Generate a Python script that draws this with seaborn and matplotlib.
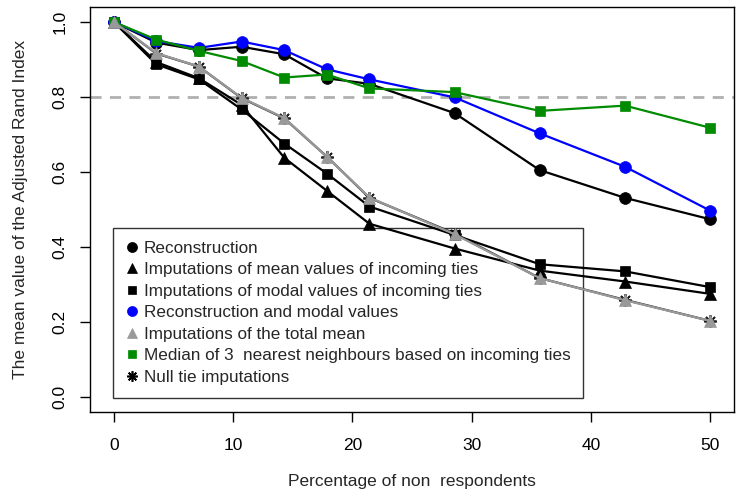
import matplotlib
matplotlib.use("Agg")
import matplotlib.pyplot as plt
import seaborn as sns
import pandas as pd
from matplotlib.lines import Line2D

# x: percentage of non respondents (k/28 * 100)
x_pct = [0, 3.57, 7.14, 10.71, 14.29, 17.86, 21.43, 28.57, 35.71, 42.86, 50.0]

reconstruction = [1.0, 0.945, 0.925, 0.934, 0.914, 0.850, 0.835, 0.757, 0.605, 0.531, 0.474]
mean_incoming = [1.0, 0.893, 0.850, 0.779, 0.638, 0.550, 0.462, 0.396, 0.337, 0.308, 0.275]
modal_incoming = [1.0, 0.887, 0.847, 0.767, 0.676, 0.596, 0.508, 0.432, 0.354, 0.335, 0.293]
recon_modal = [1.0, 0.949, 0.931, 0.948, 0.925, 0.874, 0.847, 0.799, 0.703, 0.614, 0.497]
total_mean = [1.0, 0.917, 0.881, 0.798, 0.744, 0.641, 0.532, 0.434, 0.317, 0.258, 0.203]
median3 = [1.0, 0.953, 0.923, 0.896, 0.852, 0.860, 0.823, 0.813, 0.763, 0.777, 0.718]
null_tie = [1.0, 0.916, 0.881, 0.797, 0.743, 0.641, 0.531, 0.436, 0.317, 0.259, 0.203]

labels = [
    "Reconstruction",
    "Imputations of mean values of incoming ties",
    "Imputations of modal values of incoming ties",
    "Reconstruction and modal values",
    "Imputations of the total mean",
    "Median of 3  nearest neighbours based on incoming ties",
    "Null tie imputations",
]

STAR = (8, 2, 0)
GREEN = "#008B00"
GRAY = "#999999"
styles = {
    labels[0]: dict(color="black", marker="o", ms=8.5, vals=reconstruction),
    labels[1]: dict(color="black", marker="^", ms=8, vals=mean_incoming),
    labels[2]: dict(color="black", marker="s", ms=6.5, vals=modal_incoming),
    labels[3]: dict(color="#0000FF", marker="o", ms=8.5, vals=recon_modal),
    labels[4]: dict(color=GRAY, marker="^", ms=8, vals=total_mean),
    labels[5]: dict(color=GREEN, marker="s", ms=6.5, vals=median3),
    labels[6]: dict(color="#222222", marker=STAR, ms=9, vals=null_tie),
}

sns.set_style("ticks")
plt.rcParams["font.family"] = ["Liberation Sans", "DejaVu Sans"]
FS = 12.5
LFS = 12.3

fig = plt.figure(figsize=(7.37, 4.93), dpi=100)
ax = fig.add_axes([90 / 737, 1 - 412 / 493, 644 / 737, 405 / 493])

ax.axhline(0.8, color="#b0b0b0", lw=2, ls=(0, (4, 3)), zorder=1)

draw_order = [labels[6], labels[0], labels[1], labels[2], labels[3], labels[5], labels[4]]
for i, lab in enumerate(draw_order):
    st = styles[lab]
    df = pd.DataFrame({"x": x_pct, "y": st["vals"]})
    sns.lineplot(data=df, x="x", y="y", ax=ax, color=st["color"], lw=1.6,
                 marker=st["marker"], markersize=st["ms"],
                 markeredgecolor=st["color"], markeredgewidth=1.3 if lab == labels[6] else 0.5,
                 zorder=2 + i)

ax.set_xlim(-2, 52)
ax.set_ylim(-0.04, 1.04)
ax.set_xticks([0, 10, 20, 30, 40, 50])
ax.set_yticks([0.0, 0.2, 0.4, 0.6, 0.8, 1.0])
ax.set_yticklabels(["0.0", "0.2", "0.4", "0.6", "0.8", "1.0"], rotation=90, va="center")
ax.tick_params(axis="both", direction="out", length=7, width=1, labelsize=FS, colors="black")
ax.tick_params(axis="x", pad=12)
ax.tick_params(axis="y", pad=9)
for sp in ax.spines.values():
    sp.set_visible(True)
    sp.set_color("black")
    sp.set_linewidth(1)

ax.set_xlabel("Percentage of non  respondents", fontsize=FS, labelpad=15)
ax.set_ylabel("The mean value of the Adjusted Rand Index", fontsize=FS, labelpad=18)

handles = []
for lab in labels:
    st = styles[lab]
    handles.append(Line2D([], [], ls="none", marker=st["marker"], color=st["color"],
                          markersize=st["ms"] * 0.85, markeredgewidth=1.2 if lab == labels[6] else 0.5,
                          markeredgecolor="black" if lab == labels[6] else st["color"]))
leg = ax.legend(handles, labels, loc="upper left", bbox_to_anchor=(23 / 644, 184 / 405),
                borderaxespad=0, frameon=True, fancybox=False, edgecolor="black",
                fontsize=LFS, handlelength=0.7, handletextpad=0.35, labelspacing=0.38,
                borderpad=0.75)
leg.get_frame().set_linewidth(1)
leg.set_zorder(1.5)

fig.savefig("out.png", dpi=100)
